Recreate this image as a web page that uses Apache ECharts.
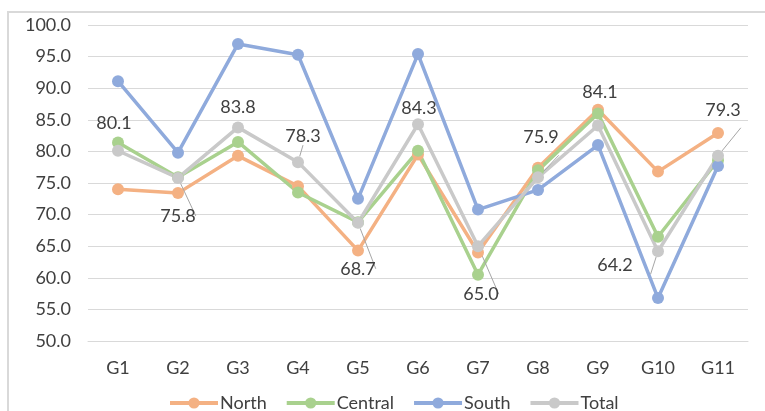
<!DOCTYPE html>
<html><head><meta charset="utf-8">
<script src="https://cdn.jsdelivr.net/npm/echarts@6/dist/echarts.min.js"></script>
<style>html,body{margin:0;padding:0;background:#fff}#c{width:765px;height:411px}</style>
</head><body><div id="c"></div>
<script>
const categories = ['G1','G2','G3','G4','G5','G6','G7','G8','G9','G10','G11'];
const north   = [74.0, 73.4, 79.3, 74.5, 64.3, 79.5, 64.0, 77.4, 86.6, 76.8, 82.9];
const central = [81.4, 75.9, 81.5, 73.5, 68.8, 80.1, 60.5, 77.0, 86.0, 66.5, 78.6];
const south   = [91.1, 79.8, 97.0, 95.3, 72.5, 95.4, 70.8, 73.9, 81.0, 56.8, 77.7];
const total   = [80.1, 75.8, 83.8, 78.3, 68.7, 84.3, 65.0, 75.9, 84.1, 64.2, 79.3];
const yTicks  = {min: 50, max: 100, interval: 5};

// label placement (offset from the point) for the Total data labels
const labelOffsets = [[-4,-28],[0,38],[0,-20],[5,-26],[0,46],[1,-16],[3,48],[3,-40],[2,-33],[-43,14],[5,-46]];
const leader = [false,true,false,true,true,false,true,true,false,true,true];

const FONT = 'Lato';
const TXT = '#404040';

function mk(name, data, color, withLabels) {
  const s = {
    name, type: 'line', data: withLabels ? data.map((v,i)=>({
      value: v,
      label: {show: true, position: 'inside', offset: labelOffsets[i]},
      labelLine: {show: leader[i], lineStyle: {color: '#a6a6a6', width: 1}}
    })) : data,
    symbol: 'circle', symbolSize: 12,
    lineStyle: {color, width: 3.5},
    itemStyle: {color},
    animation: false,
    emphasis: {disabled: true}
  };
  if (withLabels) {
    s.label = {show: true, color: TXT, fontFamily: FONT, fontSize: 18,
      formatter: p => p.value.toFixed(1)};
    s.labelLine = {show: true, smooth: false, length2: 0, lineStyle: {color: '#a6a6a6', width: 1}};
  }
  return s;
}

const chart = echarts.init(document.getElementById('c'), null, {renderer: 'canvas'});
chart.setOption({
  backgroundColor: '#fff',
  animation: false,
  graphic: [{type: 'rect', shape: {x: 8, y: 12, width: 800, height: 500},
    style: {fill: 'none', stroke: '#d9d9d9', lineWidth: 2}, silent: true, z: -10}],
  grid: {left: 88, right: 17, top: 25, bottom: 70, containLabel: false},
  xAxis: {
    type: 'category', data: categories, boundaryGap: true,
    axisLine: {show: true, lineStyle: {color: '#d9d9d9', width: 1}},
    axisTick: {show: false},
    axisLabel: {color: TXT, fontFamily: FONT, fontSize: 18, margin: 18}
  },
  yAxis: {
    type: 'value', min: yTicks.min, max: yTicks.max, interval: yTicks.interval,
    axisLine: {show: false}, axisTick: {show: false},
    splitLine: {lineStyle: {color: '#d9d9d9', width: 1}},
    axisLabel: {color: TXT, fontFamily: FONT, fontSize: 18, margin: 17,
      formatter: v => v.toFixed(1)}
  },
  legend: {
    bottom: -6, left: 163, itemWidth: 48, itemHeight: 14, itemGap: 18,
    lineStyle: {width: 4},
    textStyle: {color: TXT, fontFamily: FONT, fontSize: 18, padding: [0,0,0,-3]},
    data: ['North','Central','South','Total']
  },
  series: [
    mk('North', north, '#F4B183', false),
    mk('Central', central, '#A9D18E', false),
    mk('South', south, '#8FAADC', false),
    mk('Total', total, '#C9C9C9', true)
  ]
});
</script></body></html>
